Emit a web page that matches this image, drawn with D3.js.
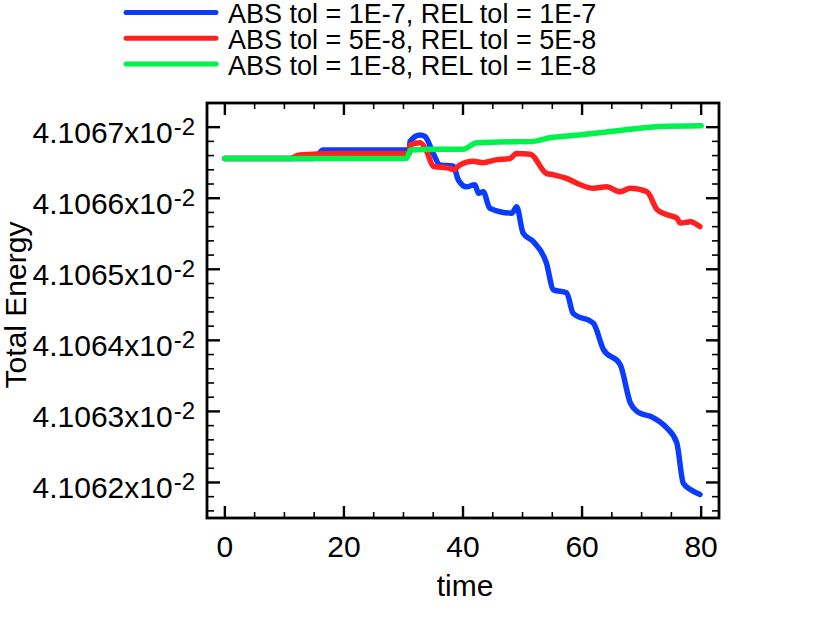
<!DOCTYPE html>
<html>
<head>
<meta charset="utf-8">
<script src="https://cdn.jsdelivr.net/npm/d3@7"></script>
<style>
  body { margin: 0; background: #fff; }
  text { font-family: "Liberation Sans", Arial, Helvetica, sans-serif; fill: #000; }
</style>
</head>
<body>
<div id="chart"></div>
<script>
// series labels
const seriesNames = [
    "ABS tol = 1E-7, REL tol = 1E-7",
    "ABS tol = 5E-8, REL tol = 5E-8",
    "ABS tol = 1E-8, REL tol = 1E-8"
];
const seriesColors = ["#0a3cff", "#ff2020", "#00f24c"];

// values, energy in units of 1e-2
const blueTime = [0, 15, 16.5, 31, 31.1, 32.8, 33.6, 35, 36.1, 38.4, 39.2, 40.6, 42, 42.6, 43.4, 44.5, 48.2, 49, 50.1, 51.8, 54, 55.2, 57.4, 58.5, 61.9, 63.6, 66.4, 68.1, 69.2, 72, 74.2, 75.9, 77, 78.2, 79.8];
const blueEnergy = [4.106656, 4.106656, 4.106668, 4.106668, 4.106680, 4.106689, 4.106687, 4.106663, 4.106647, 4.106645, 4.106626, 4.106616, 4.106619, 4.106607, 4.106609, 4.106586, 4.106579, 4.106588, 4.106551, 4.106539, 4.106509, 4.106471, 4.106467, 4.106438, 4.106424, 4.106387, 4.106366, 4.106312, 4.106300, 4.106291, 4.106277, 4.106256, 4.106199, 4.106190, 4.106183];

const redTime = [0, 11, 12.5, 20, 31, 31.1, 32.8, 33.9, 35, 37.8, 38.4, 39.5, 41.7, 43.4, 45.5, 47.9, 49, 51.3, 54, 55.2, 57.4, 59.7, 61.9, 64.1, 66.4, 68.1, 70.9, 72.6, 74.2, 75.9, 76.5, 78.2, 79.8];
const redEnergy = [4.106656, 4.106656, 4.106661, 4.106663, 4.106663, 4.106675, 4.106678, 4.106666, 4.106645, 4.106642, 4.106640, 4.106647, 4.106652, 4.106650, 4.106654, 4.106656, 4.106663, 4.106662, 4.106635, 4.106633, 4.106628, 4.106619, 4.106614, 4.106616, 4.106609, 4.106614, 4.106609, 4.106584, 4.106577, 4.106572, 4.106565, 4.106567, 4.106560];

const greenTime = [0, 30.5, 31.2, 36, 40, 42.3, 46, 51.8, 54.6, 58, 63, 68, 73.1, 80];
const greenEnergy = [4.106656, 4.106656, 4.106668, 4.106669, 4.106669, 4.106678, 4.106679, 4.106680, 4.106685, 4.106688, 4.106692, 4.106697, 4.106701, 4.106702];

const xMajorTicks = [0, 20, 40, 60, 80];
const yMajorTicks = [4.1062, 4.1063, 4.1064, 4.1065, 4.1066, 4.1067];

const margin = {top: 103, right: 111, bottom: 105, left: 207};
const W = 830, H = 623;
const width = W - margin.left - margin.right;
const height = H - margin.top - margin.bottom;

const svg = d3.select("#chart").append("svg")
    .attr("width", W)
    .attr("height", H);

const g = svg.append("g")
    .attr("transform", `translate(${margin.left}, ${margin.top})`);

const x = d3.scaleLinear([-3, 83], [0, width]);
const y = d3.scaleLinear([4.10615, 4.106734], [height, 0]);

// minor ticks every 5 in time, every 2e-5 in energy
const xMinorTicks = d3.range(0, 81, 5).filter(d => d % 20 !== 0);
const yMinorTicks = d3.range(0, 30).map(i => 4.1061 + i * 0.00002)
    .filter(d => d > y.domain()[0] && d < y.domain()[1])
    .filter(d => !yMajorTicks.some(m => Math.abs(m - d) < 1e-9));

const ticks = g.append("g").attr("class", "ticks");

function drawXTicks(vals, len, sw) {
    vals.forEach(v => {
        ticks.append("line").attr("x1", x(v)).attr("x2", x(v))
            .attr("y1", height).attr("y2", height - len)
            .attr("stroke", "#000").attr("stroke-width", sw);
        ticks.append("line").attr("x1", x(v)).attr("x2", x(v))
            .attr("y1", 0).attr("y2", len)
            .attr("stroke", "#000").attr("stroke-width", sw);
    });
}
function drawYTicks(vals, len, sw) {
    vals.forEach(v => {
        ticks.append("line").attr("x1", 0).attr("x2", len)
            .attr("y1", y(v)).attr("y2", y(v))
            .attr("stroke", "#000").attr("stroke-width", sw);
        ticks.append("line").attr("x1", width).attr("x2", width - len)
            .attr("y1", y(v)).attr("y2", y(v))
            .attr("stroke", "#000").attr("stroke-width", sw);
    });
}
drawXTicks(xMinorTicks, 6, 1.6);
drawXTicks(xMajorTicks, 12, 2.4);
drawYTicks(yMinorTicks, 7, 1.6);
drawYTicks(yMajorTicks, 13, 2.4);

// tick labels
g.selectAll(".xlab").data(xMajorTicks).enter().append("text")
    .attr("class", "xlab")
    .attr("x", d => x(d))
    .attr("y", height + 39)
    .attr("text-anchor", "middle")
    .attr("font-size", 30)
    .text(d => d);

const ylab = g.selectAll(".ylab").data(yMajorTicks).enter().append("text")
    .attr("class", "ylab")
    .attr("x", -12)
    .attr("y", d => y(d) + 15.5)
    .attr("text-anchor", "end")
    .attr("font-size", 30);
ylab.append("tspan").text(d => d.toFixed(4) + "x10");
ylab.append("tspan").attr("font-size", 24).attr("dy", -8).attr("dx", 1).text("-2");

// axis titles
g.append("text")
    .attr("x", width / 2 + 2)
    .attr("y", height + 78)
    .attr("text-anchor", "middle")
    .attr("font-size", 30)
    .text("time");

svg.append("text")
    .attr("transform", `translate(26, 305) rotate(-90)`)
    .attr("text-anchor", "middle")
    .attr("font-size", 30)
    .text("Total Energy");

// lines
const line = d3.line().x(d => x(d[0])).y(d => y(d[1])).curve(d3.curveMonotoneX);
const series = [
    d3.zip(blueTime, blueEnergy),
    d3.zip(redTime, redEnergy),
    d3.zip(greenTime, greenEnergy)
];

g.append("clipPath").attr("id", "clip")
    .append("rect").attr("width", width).attr("height", height);

g.append("g").attr("clip-path", "url(#clip)")
    .selectAll("path").data(series).enter().append("path")
    .attr("d", line)
    .attr("fill", "none")
    .attr("stroke", (d, i) => seriesColors[i])
    .attr("stroke-width", 5.5)
    .attr("stroke-linejoin", "round")
    .attr("stroke-linecap", "round");

// frame
g.append("rect")
    .attr("width", width).attr("height", height)
    .attr("fill", "none")
    .attr("stroke", "#000")
    .attr("stroke-width", 2.8);

// legend
const legend = svg.append("g").attr("class", "legend");
seriesNames.forEach((name, i) => {
    const ly = 12.5 + i * 25.8;
    legend.append("line")
        .attr("x1", 126).attr("x2", 216)
        .attr("y1", ly).attr("y2", ly)
        .attr("stroke", seriesColors[i])
        .attr("stroke-width", 5)
        .attr("stroke-linecap", "round");
    legend.append("text")
        .attr("x", 228)
        .attr("y", ly + 10.5)
        .attr("font-size", 27)
        .text(name);
});
</script>
</body>
</html>
